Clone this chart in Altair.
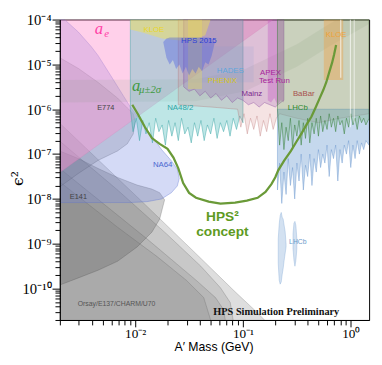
import altair as alt
import numpy as np
import pandas as pd

# ---------------- data (log10 of A' mass [GeV], log10 of eps^2) ----------------
# beam-dump regions (lower edge = bottom of plot)
bd1_m = [-2.70, -1.936, -1.436, -1.073, -0.891, -0.80]
bd1_hi = [-6.31, -8.06, -9.22, -10.07, -10.48, -10.70]
bd2_m = [-2.70, -2.164, -1.709, -1.391, -1.209, -1.118, -1.091]
bd2_hi = [-6.71, -7.80, -8.78, -9.50, -9.98, -10.31, -10.70]
bd3_m = [-2.70, -1.891, -1.436, -1.255, -1.182, -1.164]
bd3_hi = [-7.32, -8.89, -9.81, -10.20, -10.46, -10.70]
bd4_m = [-2.70, -2.164, -1.80, -1.527, -1.364, -1.30]
bd4_hi = [-7.62, -8.63, -9.28, -9.81, -10.20, -10.70]
floor_e = -10.75

e141_m = [-2.70, -2.527, -2.345, -2.164, -1.982, -1.845, -1.773, -1.727]
e141_hi = [-6.93, -7.10, -7.32, -7.52, -7.69, -7.78, -7.86, -8.02]
e141_lo = [-9.92, -9.76, -9.59, -9.39, -9.07, -8.74, -8.45, -8.02]

e774_m = [-2.70, -2.527, -2.345, -2.164, -2.073, -2.018, -2.0]
e774_hi = [-4.85, -5.09, -5.40, -5.75, -5.97, -6.10, -6.27]
e774_lo = [-7.73, -7.43, -7.14, -6.93, -6.77, -6.55, -6.27]

na64_m = [-2.70, -2.655, -2.527, -2.409, -2.345, -2.227, -2.045, -1.891, -1.755, -1.664, -1.609, -1.591]
na64_hi = [-4.0, -4.0, -4.28, -4.60, -4.80, -5.25, -5.95, -6.45, -6.90, -7.15, -7.34, -7.54]
na64_lo = [-8.08, -8.08, -8.08, -8.08, -8.08, -8.08, -8.08, -8.06, -8.00, -7.86, -7.71, -7.54]

ae_m = [-2.70, -1.60, -0.72]
ae_lo = [-7.41, -5.51, -4.0]

amu_m = [-2.70, -1.44, -0.98, -0.50, -0.20, 0.17]
amu_hi = [-5.35, -5.33, -5.10, -4.55, -4.10, -3.60]
amu_lo = [-5.85, -5.82, -5.60, -5.05, -4.60, -4.10]

na48_m = [-2.045, -2.02, -1.99, -1.96, -1.93, -1.90, -1.87, -1.84, -1.81, -1.78, -1.75, -1.72,
          -1.69, -1.66, -1.63, -1.60, -1.57, -1.54, -1.51, -1.48, -1.45, -1.42, -1.39, -1.36,
          -1.33, -1.30, -1.27, -1.24, -1.21, -1.18, -1.15, -1.12, -1.09, -1.06, -1.03, -1.00]
na48_lo = [-6.00, -6.50, -6.20, -6.70, -6.25, -6.55, -6.30, -6.75, -6.20, -6.50, -6.35, -6.80,
           -6.25, -6.60, -6.30, -6.70, -6.20, -6.55, -6.40, -6.75, -6.30, -6.60, -6.25, -6.70,
           -6.35, -6.55, -6.20, -6.65, -6.30, -6.50, -6.25, -6.60, -6.20, -6.45, -6.15, -6.30]

babar_m = [-1.60, -1.30, -1.05, -1.02, -0.99, -0.96, -0.93, -0.90, -0.87, -0.84, -0.81, -0.78,
           -0.75, -0.72, -0.69, -0.66, -0.50, -0.30, -0.10, 0.17]
babar_lo = [-5.90, -5.95, -6.00, -6.40, -6.10, -6.55, -6.20, -6.45, -6.15, -6.60, -6.25, -6.50,
            -6.10, -6.45, -6.20, -6.10, -6.20, -6.30, -6.20, -6.10]

lhcb_m = [-0.68, -0.66, -0.64, -0.62, -0.60, -0.58, -0.56, -0.54, -0.52, -0.50, -0.48, -0.46,
          -0.44, -0.42, -0.40, -0.38, -0.36, -0.34, -0.32, -0.30, -0.28, -0.26, -0.24, -0.22,
          -0.20, -0.18, -0.16, -0.14, -0.12, -0.10, -0.08, -0.06, -0.04, -0.02, 0.00, 0.02,
          0.04, 0.06, 0.08, 0.10, 0.12, 0.14, 0.17]
lhcb_green_lo = [-6.00, -6.80, -6.30, -6.90, -6.40, -6.70, -6.20, -6.85, -6.35, -6.60, -6.25, -6.80,
                 -6.30, -6.65, -6.20, -6.75, -6.30, -6.55, -6.20, -6.60, -6.15, -6.50, -6.25, -6.45,
                 -6.10, -6.40, -6.20, -6.50, -6.15, -6.35, -6.25, -6.55, -6.20, -6.40, -6.10, -6.35,
                 -6.20, -6.45, -6.15, -6.30, -6.20, -6.35, -6.20]
lhcb_blue_lo = [-7.80, -7.20, -8.10, -7.40, -7.90, -7.10, -7.70, -7.30, -8.00, -7.20, -7.60, -7.00,
                -7.80, -7.25, -7.50, -7.00, -7.70, -7.10, -7.40, -6.90, -7.30, -7.00, -7.20, -6.80,
                -7.50, -6.90, -7.10, -6.80, -7.60, -6.90, -7.20, -6.80, -7.00, -6.70, -7.30, -6.80,
                -7.10, -6.70, -7.00, -6.75, -6.90, -6.70, -6.80]

isl1_m = [-0.673, -0.664, -0.655, -0.645, -0.636, -0.627, -0.618, -0.609, -0.600]
isl1_hi = [-8.89, -8.56, -8.37, -8.30, -8.41, -8.45, -8.59, -8.72, -9.00]
isl1_lo = [-9.44, -9.81, -9.90, -9.85, -9.68, -9.55, -9.37, -9.22, -9.07]
isl2_m = [-0.536, -0.527, -0.518, -0.509, -0.500]
isl2_hi = [-8.78, -8.54, -8.50, -8.59, -8.89]
isl2_lo = [-9.11, -9.37, -9.50, -9.37, -9.11]

mainz_m = [-1.55, -1.50, -1.45, -1.40, -1.35, -1.30, -1.25, -1.20, -1.15, -1.10, -1.05, -1.00,
           -0.95, -0.90, -0.85, -0.80, -0.75, -0.70, -0.65, -0.62]
mainz_lo = [-5.50, -5.60, -5.55, -5.70, -5.60, -5.75, -5.65, -5.80, -5.70, -5.85, -5.75, -5.80,
            -5.90, -5.85, -5.95, -5.85, -5.90, -5.95, -5.85, -5.80]

hps15_m = [-1.74, -1.71, -1.68, -1.65, -1.62, -1.59, -1.56, -1.53, -1.50, -1.47, -1.44, -1.41,
           -1.38, -1.35, -1.32, -1.29, -1.26]
hps15_hi = [-4.50, -4.42, -4.40, -4.40, -4.40, -4.40, -4.40, -4.40, -4.40, -4.40, -4.40, -4.40,
            -4.40, -4.40, -4.40, -4.42, -4.50]
hps15_lo = [-4.50, -4.85, -5.00, -4.90, -5.10, -5.00, -5.20, -5.05, -5.25, -5.10, -5.20, -5.05,
            -5.15, -4.95, -5.00, -4.80, -4.50]

kloe_m = [-2.045, -1.95, -1.85, -1.75, -1.65, -1.55, -1.45, -1.35, -1.30]
kloe_lo = [-4.22, -4.28, -4.35, -4.42, -4.45, -4.47, -4.45, -4.35, -4.0]
kloe2_m = [-0.25, -0.07]
kloe2_lo = [-5.35, -5.35]
phenix_m = [-1.51, -1.38]
phenix_lo = [-5.55, -5.55]
hades_m = [-1.55, -0.90]
hades_hi = [-4.6, -4.6]
hades_lo = [-5.4, -5.4]
apex_m = [-0.77, -0.74, -0.71, -0.68, -0.65, -0.62]
apex_lo = [-5.80, -5.85, -5.75, -5.90, -5.80, -5.85]
veto_windows = [([-0.097, -0.088], -5.3), ([-0.008, 0.0], -6.4), ([0.028, 0.035], -6.3)]

# HPS^2 concept reach contour
hps2_m = [-2.027, -1.973, -1.909, -1.845, -1.773, -1.700, -1.645, -1.600, -1.555, -1.500, -1.436,
          -1.318, -1.209, -1.073, -0.964, -0.864, -0.791, -0.736, -0.700, -0.673, -0.618, -0.555,
          -0.500, -0.455, -0.409, -0.364, -0.327, -0.291, -0.255, -0.227, -0.200, -0.173, -0.155, -0.136]
hps2_e = [-5.900, -6.118, -6.402, -6.642, -6.773, -6.882, -7.079, -7.319, -7.646, -7.865, -7.974,
          -8.061, -8.105, -8.083, -8.039, -7.974, -7.843, -7.668, -7.515, -7.362, -7.144, -6.926,
          -6.707, -6.533, -6.336, -6.162, -5.965, -5.769, -5.572, -5.397, -5.179, -4.961, -4.786, -4.568]

# labels
lab_text = ["KLOE", "HPS 2015", "HADES", "PHENIX", "APEX", "Test Run", "Mainz", "BaBar", "LHCb",
            "NA48/2", "E774", "NA64", "E141", "Orsay/E137/CHARM/U70", "LHCb", "KLOE"]
lab_m = [-1.827, -1.409, -1.118, -1.191, -0.745, -0.709, -0.918, -0.436, -0.491,
         -1.582, -2.273, -1.745, -2.527, -2.173, -0.491, -0.136]
lab_e = [-4.24, -4.48, -5.15, -5.36, -5.20, -5.376, -5.66, -5.66, -5.965,
         -5.965, -5.965, -7.253, -7.952, -10.354, -8.956, -4.35]
lab_color = ["#e8d62a", "#2b3fd6", "#5fa6dc", "#d8c51c", "#a8239b", "#a8239b", "#7b2a8e", "#a8504e",
             "#2e8a2e", "#2ea6a6", "#444444", "#4a68d0", "#444444", "#555555", "#6b9acb", "#eea23a"]
lab_size = [8, 8, 8, 8, 8, 8, 8, 8, 8, 8, 7.5, 8, 7.5, 7, 7, 8]

# ---------------- chart ----------------
W, H = 316, 307
xs = alt.Scale(type="log", domain=[0.002, 1.48], nice=False)
ys = alt.Scale(type="log", domain=[2e-11, 1e-4], nice=False)


def arr(v, n):
    return np.broadcast_to(np.asarray(v, dtype=float), (n,))


def region(logm, hi, lo, fill, op, stroke=None, sw=0.6, sop=0.7):
    n = len(logm)
    df = pd.DataFrame({"m": 10.0 ** np.asarray(logm, float),
                       "hi": 10.0 ** arr(hi, n), "lo": 10.0 ** arr(lo, n)})
    kw = dict(fill=fill, fillOpacity=op, clip=True)
    if stroke:
        kw.update(stroke=stroke, strokeWidth=sw, strokeOpacity=sop)
    else:
        kw.update(strokeWidth=0)
    return alt.Chart(df).mark_area(**kw).encode(
        x=alt.X("m:Q", scale=xs, axis=None),
        y=alt.Y("hi:Q", scale=ys, axis=None),
        y2="lo:Q")


TOP = -4.0
gray = "#808080"
layers = [
    region(bd1_m, bd1_hi, floor_e, gray, 0.26, "#555555", 0.5, 0.5),
    region(bd2_m, bd2_hi, floor_e, gray, 0.24, "#555555", 0.5, 0.5),
    region(bd3_m, bd3_hi, floor_e, gray, 0.24, "#555555", 0.5, 0.5),
    region(bd4_m, bd4_hi, floor_e, gray, 0.22, "#555555", 0.5, 0.5),
    region(e141_m, e141_hi, e141_lo, "#606060", 0.30, "#444444", 0.5, 0.5),
    region(e774_m, e774_hi, e774_lo, "#707070", 0.26, "#444444", 0.5, 0.5),
    region(na64_m, na64_hi, na64_lo, "#6f86e0", 0.30, "#5c74d0", 0.6, 0.6),
    region(ae_m, TOP, ae_lo, "#ff90cc", 0.42, "#e070b0", 0.5, 0.4),
    region(amu_m, amu_hi, amu_lo, "#7a9a7a", 0.13),
    region(na48_m, TOP, na48_lo, "#5cc0c0", 0.40, "#3aa5a5", 0.6, 0.8),
    region(babar_m, TOP, babar_lo, "#d08080", 0.22, "#b06060", 0.5, 0.6),
    region(hades_m, hades_hi, hades_lo, "#80b8e0", 0.15),
    region(mainz_m, TOP, mainz_lo, "#8e44ad", 0.22, "#7d3c98", 0.6, 0.6),
    region(kloe_m, TOP, kloe_lo, "#f2e250", 0.45),
    region(phenix_m, TOP, phenix_lo, "#e8dc5a", 0.35),
    region(hps15_m, hps15_hi, hps15_lo, "#4a5ee0", 0.40),
    region(apex_m, TOP, apex_lo, "#c050c0", 0.35),
    region(lhcb_m, -6.0, lhcb_blue_lo, "#7fa8d8", 0.45, "#5a8cc8", 0.5, 0.8),
    region(lhcb_m, TOP, lhcb_green_lo, "#5aa05a", 0.28, "#2f7a2f", 0.6, 0.8),
    region(kloe2_m, TOP, kloe2_lo, "#f0a040", 0.40),
]
for wm, wl in veto_windows:
    layers.append(region(wm, TOP, wl, "#ffffff", 0.8))
layers.append(region(isl1_m, isl1_hi, isl1_lo, "#9dbde0", 0.45, "#7aa3d3", 0.5, 0.7))
layers.append(region(isl2_m, isl2_hi, isl2_lo, "#9dbde0", 0.45, "#7aa3d3", 0.5, 0.7))

hps2_df = pd.DataFrame({"m": 10.0 ** np.array(hps2_m), "e": 10.0 ** np.array(hps2_e)})
layers.append(alt.Chart(hps2_df).mark_line(color="#6a9a38", strokeWidth=2.3, clip=True).encode(
    x=alt.X("m:Q", scale=xs, axis=None), y=alt.Y("e:Q", scale=ys, axis=None)))

lab_df = pd.DataFrame({"t": lab_text, "m": 10.0 ** np.array(lab_m), "e": 10.0 ** np.array(lab_e),
                       "c": lab_color, "s": lab_size})
layers.append(alt.Chart(lab_df).mark_text(font="Liberation Sans", baseline="middle", align="center").encode(
    x=alt.X("m:Q", scale=xs, axis=None), y=alt.Y("e:Q", scale=ys, axis=None),
    text="t:N", color=alt.Color("c:N", scale=None), size=alt.Size("s:Q", scale=None)))


def txt(s, lm, le, **kw):
    df = pd.DataFrame({"t": [s], "m": [10.0 ** lm], "e": [10.0 ** le]})
    return alt.Chart(df).mark_text(baseline="middle", **kw).encode(
        x=alt.X("m:Q", scale=xs, axis=None), y=alt.Y("e:Q", scale=ys, axis=None), text="t:N")


layers += [
    txt("a", -2.336, -4.218, font="Liberation Serif", fontStyle="italic", fontSize=17, color="#ff3fa6"),
    txt("e", -2.264, -4.33, font="Liberation Serif", fontStyle="italic", fontSize=11, color="#ff3fa6"),
    txt("a", -1.991, -5.485, font="Liberation Serif", fontStyle="italic", fontSize=17, color="#3f9a3f"),
    txt("μ±2σ", -1.964, -5.572, font="Liberation Serif", fontStyle="italic", fontSize=11,
        color="#3f9a3f", align="left"),
    txt("HPS²", -1.191, -8.41, font="Liberation Sans", fontWeight="bold", fontSize=14, color="#5e9a22"),
    txt("concept", -1.191, -8.738, font="Liberation Sans", fontWeight="bold", fontSize=14, color="#5e9a22"),
    txt("HPS Simulation Preliminary", -0.691, -10.528, font="Liberation Serif", fontWeight="bold",
        fontSize=10.5, color="#111111"),
]

# axes
EXPR = ("'10' + (round(log(datum.value)/LN10) < 0 ? '⁻' : '') + "
        "['⁰','¹','²','³','⁴','⁵','⁶','⁷','⁸','⁹','¹⁰'][abs(round(log(datum.value)/LN10))]")
x_major = [0.01, 0.1, 1.0]
y_major = [1e-4, 1e-5, 1e-6, 1e-7, 1e-8, 1e-9, 1e-10]
x_minor = [k * 10.0 ** d for d in range(-3, 1) for k in range(2, 10) if 0.002 <= k * 10.0 ** d <= 1.48]
y_minor = [k * 10.0 ** d for d in range(-11, -4) for k in range(2, 10) if 2e-11 <= k * 10.0 ** d <= 1e-4]

frame_df = pd.DataFrame({"m": [0.002, 1.48], "e": [2e-11, 1e-4]})
axis_main = alt.Chart(frame_df).mark_point(opacity=0).encode(
    x=alt.X("m:Q", scale=xs, title="A′ Mass (GeV)", axis=alt.Axis(
        orient="bottom", values=x_major, labelExpr=EXPR, tickSize=7, labelFont="Liberation Serif",
        labelFontSize=13.5, labelPadding=0, titleFont="Liberation Sans", titleFontSize=12.5,
        titleFontWeight="normal", titleX=W / 2 - 1, titleY=27, titleBaseline="middle",
        titleAlign="center", grid=False, domainColor="black", tickColor="black",
        labelColor="black", titleColor="black", labelFlush=False, zindex=1)),
    y=alt.Y("e:Q", scale=ys, title="ϵ²", axis=alt.Axis(
        orient="left", values=y_major, labelExpr=EXPR, tickSize=8, labelFont="Liberation Serif",
        labelFontSize=15, labelPadding=1, titleFont="DejaVu Serif", titleFontSize=16,
        titleFontWeight="normal", titleX=-43, titleY=162, titleBaseline="middle",
        titleAlign="center", titleAngle=270, grid=False, domainColor="black", tickColor="black",
        labelColor="black", titleColor="black", labelFlush=False, zindex=1)))
axis_minor = alt.Chart(frame_df).mark_point(opacity=0).encode(
    x=alt.X("m:Q", scale=xs, title=None, axis=alt.Axis(
        orient="bottom", values=x_minor, labels=False, tickSize=5, domain=False, grid=False,
        tickColor="black", zindex=1)),
    y=alt.Y("e:Q", scale=ys, title=None, axis=alt.Axis(
        orient="left", values=y_minor, labels=False, tickSize=5, domain=False, grid=False,
        tickColor="black", zindex=1)))

chart = alt.layer(axis_main, axis_minor, *layers).resolve_axis(
    x="independent", y="independent").properties(
    width=W, height=H, padding={"left": 53, "top": 8, "right": 5, "bottom": 34},
    autosize=alt.AutoSizeParams(type="none")).configure_view(stroke="black", strokeWidth=1)

chart.save("out.html", embed_options={"renderer": "svg", "actions": False})
